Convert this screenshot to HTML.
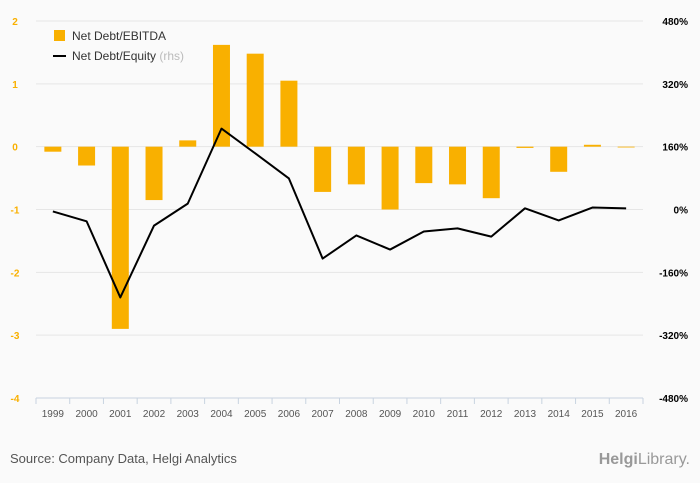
<!DOCTYPE html>
<html><head><meta charset="utf-8"><style>
body{margin:0;background:#fafafa;}
svg{display:block;font-family:"Liberation Sans",sans-serif;}
</style></head><body>
<svg id="c" width="700" height="483" viewBox="0 0 700 483">
<rect width="700" height="483" fill="#fafafa"/>
<g id="grid"></g><g id="bars"></g><g id="line"></g><g id="axes"></g>
<g>
<rect x="54" y="30" width="11" height="11" fill="#f9b000"/>
<text x="72" y="40" font-size="12" fill="#333">Net Debt/EBITDA</text>
<line x1="53" y1="56" x2="66" y2="56" stroke="#000" stroke-width="2"/>
<text x="72" y="60" font-size="12" fill="#333">Net Debt/Equity <tspan fill="#bbb">(rhs)</tspan></text>
</g>
<text x="10" y="463" font-size="13" fill="#555">Source: Company Data, Helgi Analytics</text>
<text x="690" y="464" font-size="16" fill="#999" text-anchor="end"><tspan font-weight="bold">Helgi</tspan>Library.</text>
</svg>
<script>
const years=["1999","2000","2001","2002","2003","2004","2005","2006","2007","2008","2009","2010","2011","2012","2013","2014","2015","2016"];
const ebitda=[-0.08,-0.3,-2.9,-0.85,0.1,1.62,1.48,1.05,-0.72,-0.6,-1.0,-0.58,-0.6,-0.82,-0.02,-0.4,0.03,0];
const equity=[-5,-30,-224,-41,15,206,143,79,-125,-66,-102,-56,-48,-69,3,-28,5,3];
const leftTicks=[2,1,0,-1,-2,-3,-4];
const rightTicks=["480%","320%","160%","0%","-160%","-320%","-480%"];
const NS="http://www.w3.org/2000/svg";
const x0=36,x1=643,yTop=21,yBot=398;
const step=(x1-x0)/years.length;
const yL=v=>yTop+(2-v)*(yBot-yTop)/6;
const yR=p=>yL(p/160-1);
const xC=i=>x0+step*(i+0.5);
function mk(t,a,p){const e=document.createElementNS(NS,t);for(const k in a)e.setAttribute(k,a[k]);p.appendChild(e);return e;}
const grid=document.getElementById('grid'),bars=document.getElementById('bars'),line=document.getElementById('line'),axes=document.getElementById('axes');
leftTicks.forEach((v,i)=>{
 const y=yL(v);
 if(v>-4){const g=mk('line',{x1:x0,x2:x1,y1:y,y2:y,stroke:'#e6e6e6','stroke-width':1},grid);
 
 }
 const t=mk('text',{x:15,y:y+4,'font-size':10,'font-weight':'bold',fill:'#f9b000','text-anchor':'middle'},axes);t.textContent=v;
 
 
 const r=mk('text',{x:688,y:y+4,'font-size':10,'font-weight':'bold',fill:'#000','text-anchor':'end'},axes);r.textContent=rightTicks[i];
 
 
});
const ax=mk('line',{x1:x0,x2:x1,y1:yBot,y2:yBot,stroke:'#c8d3e0'},axes);


for(let i=0;i<=years.length;i++){const tk=mk('line',{x1:x0+step*i,x2:x0+step*i,y1:yBot,y2:yBot+6,stroke:'#c8d3e0'},axes);
 
 }
years.forEach((yr,i)=>{
 const t=mk('text',{x:xC(i),y:417,'font-size':10,fill:'#555','text-anchor':'middle'},axes);t.textContent=yr;
 
 
 const v=ebitda[i],y0=yL(0),y=yL(v);
 const b=mk('rect',{x:xC(i)-8.5,y:Math.min(y0,y),width:17,height:Math.max(Math.abs(y-y0),0.8),fill:'#f9b000'},bars);
 
 
});
const pts=equity.map((p,i)=>xC(i)+','+yR(p)).join(' ');
const pl=mk('polyline',{points:pts,fill:'none',stroke:'#000','stroke-width':2,'stroke-linejoin':'round'},line);


</script>
</body></html>
